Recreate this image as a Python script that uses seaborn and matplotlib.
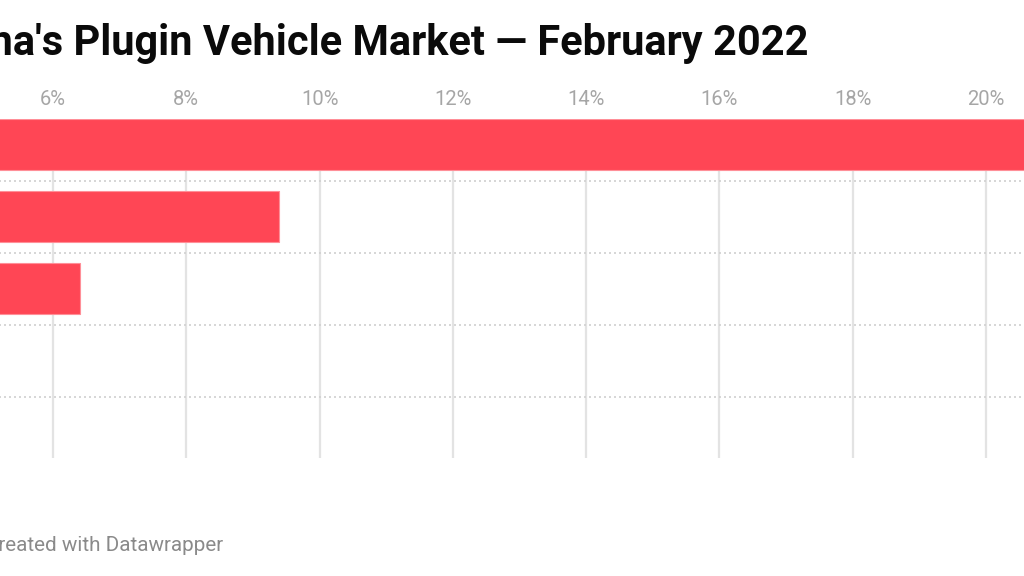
import matplotlib
matplotlib.use("Agg")
import matplotlib.pyplot as plt
import seaborn as sns
import pandas as pd

# data (rows 1, 4 and 5 run past the visible window, values estimated)
brands = ["BYD", "SAIC-GM-Wuling", "Tesla", "Changan", "Chery"]
share = [24.5, 9.39, 6.4, 4.9, 4.4]
ticks = [0, 2, 4, 6, 8, 10, 12, 14, 16, 18, 20]
tick_labels = [f"{t}%" for t in ticks]

df = pd.DataFrame({"brand": brands, "share": share})

sns.set_theme(style="white")
plt.rcParams["font.family"] = ["Roboto", "DejaVu Sans"]

W, H = 1024, 576
fig = plt.figure(figsize=(W / 100, H / 100), dpi=100)

# chart is cropped: 0% sits left of the picture
px_per_pct = (986 - 53) / 14
x0 = 53 - 6 * px_per_pct
xmax = 21
ax = fig.add_axes([x0 / W, 1 - 458 / H, xmax * px_per_pct / W, (458 - 119.2) / H])

sns.barplot(data=df, x="share", y="brand", orient="h", color="#ff4655",
            saturation=1, width=0.71, edgecolor="#ff8f98", linewidth=0.8,
            ax=ax, zorder=3)

ax.set_xlim(0, xmax)
ax.set_ylim(4.35, -0.355)
ax.set_xticks(ticks)
ax.set_xticklabels(tick_labels)
ax.xaxis.set_ticks_position("top")
ax.tick_params(axis="x", length=0, pad=7, labelsize=14.5, labelcolor="#a6a6a6")
# category labels fall outside the cropped view
ax.tick_params(axis="y", length=0, labelsize=13)
ax.set_xlabel("")
ax.set_ylabel("")
for s in ax.spines.values():
    s.set_visible(False)

ax.grid(axis="x", color="#e3e3e3", linewidth=1.6, zorder=0)
for yy in [0.5, 1.5, 2.5, 3.5]:
    ax.axhline(yy, color="#d0d0d0", linewidth=1.2, linestyle=(0, (1.2, 1.8)), zorder=1)

fig.text(808 / W, 1 - 55 / H, "China's Plugin Vehicle Market \u2014 February 2022",
         ha="right", va="baseline", fontsize=29.9, fontweight="bold", color="#0a0a0a")
fig.text(223 / W, 1 - 551 / H, "Created with Datawrapper",
         ha="right", va="baseline", fontsize=14.9, color="#8a8a8a")

fig.savefig("out.png", dpi=100)
